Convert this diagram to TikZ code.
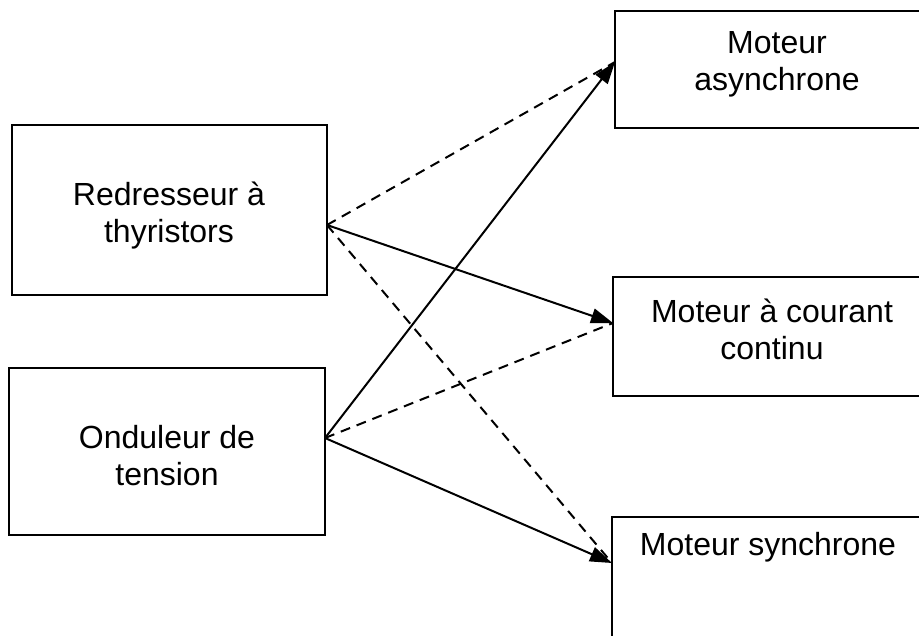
\documentclass[tikz,border=0pt]{standalone}
\usepackage{fontspec}
\setmainfont{Liberation Sans}
\usetikzlibrary{arrows.meta}
\begin{document}
\begin{tikzpicture}[x=1pt,y=-1pt,
  box/.style={draw=black, line width=2.2pt, fill=none, inner sep=0pt},
  lbl/.style={inner sep=0pt, align=center, font=\fontsize{32}{37}\selectfont},
  link/.style={line width=2pt, -{Triangle[length=22pt,width=15pt]}},
  dlink/.style={line width=2pt, dash pattern=on 10pt off 7pt}]
\useasboundingbox (0,0) rectangle (919,635);
\clip (0,0) rectangle (919,635);
% left boxes
\node[box, minimum width=315pt, minimum height=170pt] (red) at (169.5,210) {};
\node[lbl] (tred) at (169,216) {Redresseur à\\thyristors};
\node[box, minimum width=316pt, minimum height=167pt] (ond) at (167,451.5) {};
\node[lbl] (tond) at (167,456) {Onduleur de\\tension};
% right boxes
\node[box, minimum width=324pt, minimum height=117pt] (ma) at (777,69.5) {};
\node[lbl] (tma) at (777,64) {Moteur\\asynchrone};
\node[box, minimum width=318pt, minimum height=119pt] (mcc) at (772,336.5) {};
\node[lbl] (tmcc) at (772,329) {Moteur à courant\\continu};
\node[box, minimum width=312pt, minimum height=160pt] (ms) at (768,597) {};
\node[lbl] (tms) at (768,547) {Moteur synchrone};
% junction points
\coordinate (rj) at (327,225);
\coordinate (oj) at (325,438);
\coordinate (maj) at (615,62);
\coordinate (mccj) at (613,323);
\coordinate (msj) at (612,563);
% connectors
\draw[dlink] (rj) -- (maj);
\draw[dlink] (rj) -- (msj);
\draw[dlink] (oj) -- (mccj);
\draw[link] (rj) -- (mccj);
\draw[link] (oj) -- (maj);
\draw[link] (oj) -- (msj);
\end{tikzpicture}
\end{document}
